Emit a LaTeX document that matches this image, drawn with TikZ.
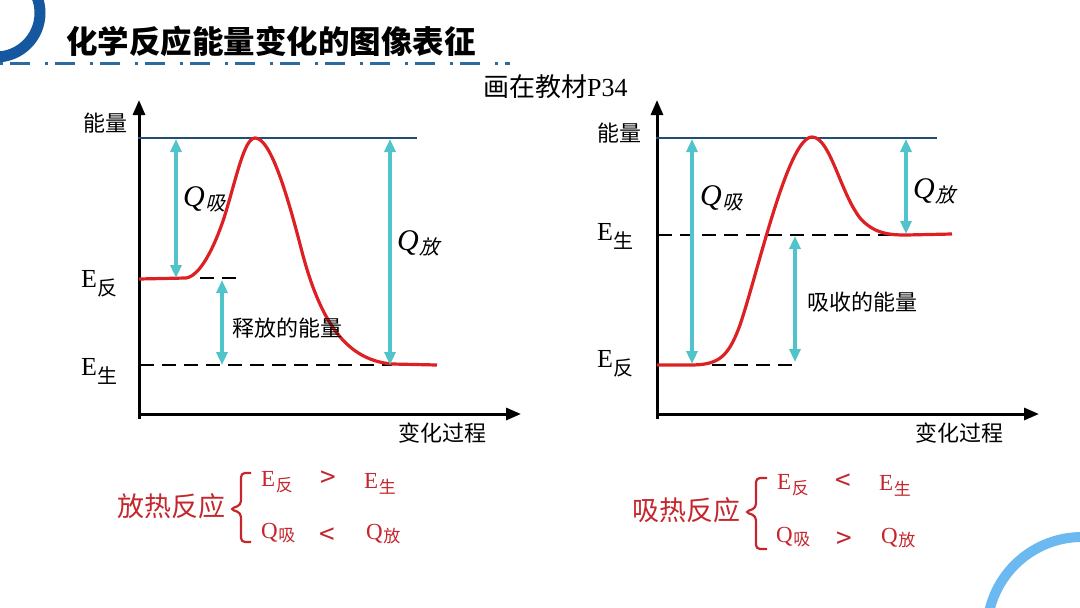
\documentclass[tikz,border=0pt]{standalone}
\usepackage{fontspec}
\setmainfont{Liberation Serif}
\newfontfamily\cjk{Noto Sans CJK SC}
\newfontfamily\cjkslant{Noto Sans CJK SC}[FakeSlant=0.25]
\usetikzlibrary{arrows.meta}
\usetikzlibrary{positioning}

\definecolor{titleblue}{RGB}{22,88,160}
\definecolor{lineblue}{RGB}{44,106,160}
\definecolor{toplevel}{RGB}{31,78,121}
\definecolor{curvered}{RGB}{220,32,36}
\definecolor{qcyan}{RGB}{80,196,202}
\definecolor{textred}{RGB}{196,38,44}
\definecolor{arcblue}{RGB}{108,184,240}

\newcommand{\fs}[1]{\fontsize{#1}{#1}\selectfont}
% energy symbol with a Chinese subscript
\newcommand{\lev}[4]{#1\kern0.5pt\raisebox{-#3}{\cjk\fs{#2}#4}}
\newcommand{\Qlab}[1]{{\fs{30}\itshape Q}\kern1pt\raisebox{-4pt}{\cjkslant\fs{20}#1}}

\tikzset{
  axis/.style={line width=3pt, -{Triangle[length=15pt,width=12pt]}},
  gap/.style={draw=qcyan, line width=3.4pt,
    {Triangle[length=13pt,width=11pt]}-{Triangle[length=13pt,width=11pt]}},
  level/.style={line width=2.2pt, dash pattern=on 14pt off 8pt},
  curve/.style={draw=curvered, line width=3.2pt, line join=round},
  lab/.style={font=\cjk\fs{22}, inner sep=0pt},
  elab/.style={font=\fs{26}, inner sep=0pt, anchor=base west},
  sumlab/.style={font=\fs{23}, text=textred, inner sep=0pt, anchor=base west},
  rel/.style={font=\cjk\fs{28}, text=textred, inner sep=0pt, anchor=base west},
  kind/.style={font=\cjk\fs{27}, text=textred, inner sep=0pt},
  brace/.style={draw=textred, line width=2.2pt, rounded corners=4pt},
}

\begin{document}
\begin{tikzpicture}[x=1pt, y=-1pt]
  \useasboundingbox (0,0) rectangle (1080,608);
  \clip (0,0) rectangle (1080,608);

  % header
  \draw[titleblue, line width=11pt] (-4,13) circle (44);
  \node[anchor=west, inner sep=0pt, font=\cjk\bfseries\fs{31.5}] (title) at (66,41) {化学反应能量变化的图像表征};
  \draw[lineblue, line width=3pt, dash pattern=on 3pt off 7pt on 20pt off 15pt] (0,63) -- (510,63);
  \node[anchor=west, inner sep=0pt, font=\fs{26}] (note) at (483,87) {{\cjk 画在教材}P34};

  % ---- exothermic graph ----
  \coordinate (o1) at (139,414);
  \draw[axis] (139,419) -- (139,100) coordinate (y1);
  \draw[axis] (138,414) -- (521,414) coordinate (x1);
  \node[lab, anchor=west] (ylab1) at (83,123) {能量};
  \node[lab, anchor=west] (xlab1) at (398,433) {变化过程};

  \coordinate (top1a) at (138,138);
  \coordinate (top1b) at (417,138);
  \draw[toplevel, line width=1.8pt] (top1a) -- (top1b);

  \coordinate (re1) at (200,278);
  \coordinate (re1b) at (241,278);
  \coordinate (pr1a) at (140,365);
  \coordinate (pr1b) at (392,365);
  \draw[level] (re1) -- (re1b);
  \draw[level] (pr1a) -- (pr1b);

  \draw[curve] (139,279) -- (186,278)
    .. controls (200,276) and (214,248) .. (224,218)
    .. controls (236,180) and (244,138) .. (255,138)
    .. controls (270,138) and (286,190) .. (301,248)
    .. controls (320,322) and (346,360) .. (392,364) -- (437,365);

  \coordinate (qa1t) at (176,139);
  \coordinate (qa1b) at (176,278);
  \coordinate (rel1t) at (222,280);
  \coordinate (rel1b) at (222,365);
  \coordinate (qr1t) at (390,139);
  \coordinate (qr1b) at (390,365);
  \draw[gap] (qa1t) -- (qa1b);
  \draw[gap] (rel1t) -- (rel1b);
  \draw[gap] (qr1t) -- (qr1b);

  \node[elab] (qabs1) at (183,206) {\Qlab{吸}};
  \node[elab] (qrel1) at (397,250) {\Qlab{放}};
  \node[elab] (er1) at (81,287) {\lev{E}{20}{8pt}{反}};
  \node[elab] (ep1) at (81,375) {\lev{E}{20}{8pt}{生}};
  \node[lab, anchor=west] (rellab) at (232,328) {释放的能量};

  % ---- endothermic graph ----
  \draw[axis] (657,419) -- (657,100) coordinate (y2);
  \draw[axis] (656,414) -- (1039,414) coordinate (x2);
  \node[lab, anchor=west] (ylab2) at (597,133) {能量};
  \node[lab, anchor=west] (xlab2) at (915,433) {变化过程};

  \coordinate (top2a) at (656,138);
  \coordinate (top2b) at (937,138);
  \draw[toplevel, line width=1.8pt] (top2a) -- (top2b);

  \coordinate (pr2a) at (658,235);
  \coordinate (pr2b) at (906,235);
  \coordinate (re2a) at (690,365);
  \coordinate (re2b) at (792,365);
  \draw[level] (pr2a) -- (pr2b);
  \draw[level] (re2a) -- (re2b);

  \draw[curve] (657,365) -- (690,365)
    .. controls (718,365) and (728,358) .. (740,325)
    .. controls (758,272) and (788,137) .. (812,137)
    .. controls (830,137) and (840,192) .. (860,218)
    .. controls (874,234) and (890,235) .. (906,235) -- (952,234);

  \coordinate (qa2t) at (692,139);
  \coordinate (qa2b) at (692,364);
  \coordinate (ab2t) at (795,236);
  \coordinate (ab2b) at (795,362);
  \coordinate (qr2t) at (906,139);
  \coordinate (qr2b) at (906,234);
  \draw[gap] (qa2t) -- (qa2b);
  \draw[gap] (ab2t) -- (ab2b);
  \draw[gap] (qr2t) -- (qr2b);

  \node[elab] (qabs2) at (700,205) {\Qlab{吸}};
  \node[elab] (qrel2) at (913,198) {\Qlab{放}};
  \node[elab] (ep2) at (597,240) {\lev{E}{20}{8pt}{生}};
  \node[elab] (er2) at (597,367) {\lev{E}{20}{8pt}{反}};
  \node[lab, anchor=west] (ablab) at (807,302) {吸收的能量};

  % ---- summaries ----
  \node[kind, anchor=west] (exo) at (117,506) {放热反应};
  \draw[brace] (251,473) -- (241,473) -- (241,505) -- (230,509) -- (241,513) -- (241,542) -- (251,542);
  \node[sumlab] (s1a) at (261,486) {\lev{E}{17}{5pt}{反}};
  \node[rel] (s1b) at (320,487) {>};
  \node[sumlab] (s1c) at (364,488) {\lev{E}{17}{5pt}{生}};
  \node[sumlab] (s1d) at (261,538) {\lev{Q}{17}{3pt}{吸}};
  \node[rel] (s1e) at (319,544) {<};
  \node[sumlab] (s1f) at (366,539) {\lev{Q}{17}{3pt}{放}};

  \node[kind, anchor=west] (endo) at (632,510) {吸热反应};
  \draw[brace] (767,478) -- (756,478) -- (756,508) -- (745,512) -- (756,516) -- (756,549) -- (767,549);
  \node[sumlab] (s2a) at (777,489) {\lev{E}{17}{5pt}{反}};
  \node[rel] (s2b) at (835,490) {<};
  \node[sumlab] (s2c) at (879,490) {\lev{E}{17}{5pt}{生}};
  \node[sumlab] (s2d) at (776,542) {\lev{Q}{17}{3pt}{吸}};
  \node[rel] (s2e) at (836,548) {>};
  \node[sumlab] (s2f) at (881,543) {\lev{Q}{17}{3pt}{放}};

  % corner arc
  \draw[arcblue, line width=10pt] (1082,632) circle (95);
\end{tikzpicture}
\end{document}
